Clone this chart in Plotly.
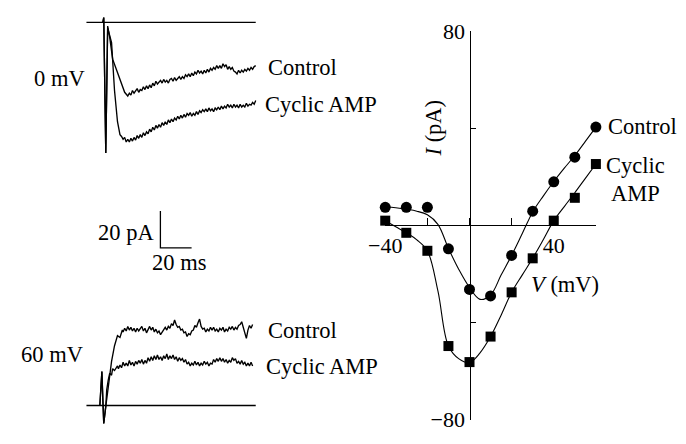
import plotly.graph_objects as go

W, H = 686, 444
FONT = "Liberation Serif"
FS = 22.5

# ---------------- current traces (time in ms, current in pA) ----------------
baseline_t = [-10.6, 98.0]
baseline_i = [0, 0]

# 0 mV, control
top_ctrl_t = [0, 0.6, 1.9, 3.1, 4.4, 6.3, 8, 10, 12, 14] + list(range(16, 99))
top_ctrl_i = [0, 2.6, -71, -2, -8, -20, -24, -29, -34, -38,
              -40, -38.5, -39.5, -37, -38.5, -37.5, -36, -38, -36.5, -37,
              -35, -36.5, -34.5, -36, -34, -35.5, -33, -34.5, -32, -33.5,
              -32.5, -31.5, -33, -31, -32.5, -31.5, -33, -31, -30.5, -32,
              -30, -31.5, -30.5, -29.5, -31, -29.5, -30.5, -28.5, -29.5, -28,
              -29.5, -27.5, -29, -27, -28, -26, -27.5, -26.5, -28, -26,
              -27.5, -25.5, -27, -25, -26, -24.5, -25.5, -23.5, -25, -23.5,
              -25, -22.5, -24, -23, -25.5, -24, -25.5, -24.5, -26.5, -27,
              -28, -26, -27.5, -26, -27, -25.5, -26.5, -25, -26, -24.5,
              -25.5, -24, -23.5]

# 0 mV, cyclic AMP
top_camp_t = [0, 0.6, 1.9, 3.1, 5.6, 7.5, 9.4, 11] + list(range(12, 99))
top_camp_i = [0, 2.6, -71, -3, -11, -37, -54, -61,
              -62, -63.5, -62.5, -65, -63.5, -65, -63, -64.5, -62.5, -64,
              -61.5, -63, -61, -62.5, -60, -61.5, -59.5, -60.5, -58, -59.5,
              -57, -58.5, -56, -57.5, -55.5, -57, -54.5, -56, -54, -55.5,
              -53, -54.5, -52.5, -54, -52, -53, -51, -52.5, -50.5, -52,
              -50, -51.5, -49.5, -50.5, -49, -51, -49.5, -50.5, -48.5, -50,
              -48, -49, -47.5, -48.5, -47, -48.5, -46.5, -48, -47, -48.5,
              -46.5, -47.5, -46, -47.5, -45.5, -47, -45.5, -46.5, -44.5, -46,
              -45, -46.5, -44.5, -46, -45, -46.5, -44.5, -46, -45, -46,
              -44, -45.5, -44.5, -45, -43.5, -44.5, -42.5]

# 60 mV, control
bot_ctrl_t = [-1.9, -0.6, 0, 0.6, 1.9, 3.1, 4.4, 5.6, 7.5, 9.4, 11, 12.5] + list(range(13, 97))
bot_ctrl_i = [0, 18.5, 3.6, -9.7, -0.5, 7, 16, 24, 32.5, 38, 37, 41,
              40, 42, 40.5, 43, 41, 42.5, 40.5, 42, 40, 42,
              40.5, 41.5, 43, 40.5, 42, 39.5, 41.5, 43, 41, 42.5,
              40, 41.5, 39.5, 40.5, 38.5, 40, 41.5, 42.5, 41, 43,
              42, 44.5, 43.5, 46.5, 44, 42.5, 43, 41, 41.5, 39.5,
              40, 37.5, 39, 38.5, 40.5, 41, 43.5, 42.5, 45, 47,
              43, 41.5, 42, 40, 41.5, 40.5, 42.5, 41, 42.5, 40.5,
              41.5, 40, 42, 41, 42.5, 40, 41.5, 40.5, 42.5, 41.5,
              43, 41, 42.5, 41.5, 43.5, 44, 45.5, 42, 39, 36.5,
              41, 43.5, 42, 44]

# 60 mV, cyclic AMP
bot_camp_t = [-1.9, -0.6, 0, 0.6, 1.9, 2.5, 3.5, 4.4, 5.6, 6.3, 7.5, 9.4] + list(range(10, 97))
bot_camp_i = [0, 18.5, 3.6, -9.7, -0.5, 8.5, 14, 17.5, 16.5, 20, 19, 21.5,
              20, 22, 20.5, 23.5, 21.5, 23, 21.5, 24.5, 22, 23.5,
              21.5, 24, 22.5, 24.5, 23, 25, 22.5, 24.5, 23, 26,
              24, 26.5, 24.5, 27, 25, 27.5, 25, 26.5, 24.5, 27,
              25.5, 28, 25, 27, 25.5, 27.5, 25, 26.5, 24, 26,
              24.5, 25.5, 23.5, 25, 22.5, 23.5, 21.5, 23, 22, 24,
              22, 23.5, 21.5, 23, 22, 24, 22.5, 23.5, 21.5, 23,
              22.5, 25, 23.5, 25.5, 24, 26, 24, 25.5, 23.5, 25,
              23, 24.5, 23.5, 26, 24.5, 25.5, 23, 24, 22.5, 24.5,
              22.5, 23.5, 21.5, 23, 21.5, 23.5, 21.5]

scale_t = [36.9, 36.9, 56.9]   # 20 ms bar
scale_i = [20, 0, 0]           # 20 pA bar

# ---------------- I-V relation ----------------
v_pts = [-40, -30, -20, -10, 0, 10, 20, 30, 40, 50, 60]
i_ctrl = [7.4, 7.4, 7.4, -9.7, -26.4, -29.1, -12.4, 5.8, 17.9, 28, 40.4]
i_camp = [1.9, -3.1, -10.5, -49.7, -56.3, -45.8, -27.6, -13.6, 1.9, 11.3, 25.2]

v_fit = [-40, -35, -30, -25, -20, -15, -10, -5, 0, 5, 10, 15, 20, 25, 30, 35, 40, 45, 50, 55, 60]
fit_ctrl = [7.6, 7.2, 6.6, 5.8, 4.3, 0.4, -9.5, -18.3, -25.6, -30.5, -28.7, -20.5, -12.4, -3.5, 5.5, 12, 18, 23.5,
            28.7, 34.5, 40.4]
fit_camp = [1.9, -0.6, -3.1, -6, -10.5, -27, -49.7, -55, -56.5, -52.5, -45.8, -37, -27.6, -20.5, -13.6, -6, 1.9, 7.7,
            13.4, 19.3, 25.2]

iv_xticks = [-40, -20, 0, 20, 40, 60]
iv_xticktext = ["\u221240", "", "", "", "40", ""]
iv_yticks = [-80, -40, 0, 40, 80]
iv_yticktext = ["\u221280", "", "", "", "80"]


def px(x):
    return x / W


def py(y):
    return 1 - y / H


fig = go.Figure()
line = dict(color="black", width=1.35)

for t, i in [(baseline_t, baseline_i), (top_ctrl_t, top_ctrl_i), (top_camp_t, top_camp_i)]:
    fig.add_trace(go.Scatter(x=t, y=i, mode="lines", line=line, xaxis="x", yaxis="y",
                             hoverinfo="skip", cliponaxis=False))
for t, i in [(baseline_t, baseline_i), (bot_ctrl_t, bot_ctrl_i), (bot_camp_t, bot_camp_i)]:
    fig.add_trace(go.Scatter(x=t, y=i, mode="lines", line=line, xaxis="x", yaxis="y2",
                             hoverinfo="skip", cliponaxis=False))
fig.add_trace(go.Scatter(x=scale_t, y=scale_i, mode="lines", line=dict(color="black", width=1.3),
                         xaxis="x", yaxis="y3", hoverinfo="skip", cliponaxis=False))

fig.add_trace(go.Scatter(x=v_fit, y=fit_ctrl, mode="lines", line=dict(color="black", width=1.1, shape="spline"),
                         xaxis="x2", yaxis="y4", cliponaxis=False))
fig.add_trace(go.Scatter(x=v_fit, y=fit_camp, mode="lines", line=dict(color="black", width=1.1, shape="spline"),
                         xaxis="x2", yaxis="y4", cliponaxis=False))
fig.add_trace(go.Scatter(x=v_pts, y=i_ctrl, mode="markers", marker=dict(symbol="circle", size=11, color="black"),
                         xaxis="x2", yaxis="y4", cliponaxis=False))
fig.add_trace(go.Scatter(x=v_pts, y=i_camp, mode="markers", marker=dict(symbol="square", size=10, color="black"),
                         xaxis="x2", yaxis="y4", cliponaxis=False))

hidden = dict(visible=False, showgrid=False, zeroline=False, fixedrange=True)

# left panel: 1.6 px per ms, 1.95 px per pA
fig.update_layout(
    xaxis=dict(domain=[px(71), px(246)], range=[(71 - 88) / 1.6, (246 - 88) / 1.6], anchor="y", **hidden),
    yaxis=dict(domain=[py(155), py(0)], range=[(11 - 155) / 1.95, 11 / 1.95], anchor="x", **hidden),
    yaxis2=dict(domain=[py(444), py(320)], range=[(417 - 444) / 1.95, (417 - 320) / 1.95], anchor="x", **hidden),
    yaxis3=dict(domain=[py(260), py(200)], range=[(250 - 260) / 1.95, (250 - 200) / 1.95], anchor="x", **hidden),
)

iv_x0, iv_x1 = 464 - 40 * 2.16, 464 + 60 * 2.16
axfont = dict(family=FONT, size=22, color="black")
fig.update_layout(
    xaxis2=dict(domain=[px(iv_x0), px(iv_x1)], range=[-40, 60], anchor="free", position=py(226),
                showline=True, linecolor="black", linewidth=1.2, ticks="inside", ticklen=7, tickwidth=1.1,
                tickcolor="black", tickvals=iv_xticks, ticktext=iv_xticktext, tickfont=axfont,
                ticklabeloverflow="allow", showgrid=False, zeroline=False, fixedrange=True),
    yaxis4=dict(domain=[py(432), py(20)], range=[-80, 80], anchor="free", position=px(464),
                showline=True, linecolor="black", linewidth=1.2, ticks="inside", ticklen=5, tickwidth=1.1,
                tickcolor="black", tickvals=iv_yticks, ticktext=iv_yticktext, tickfont=axfont,
                ticklabeloverflow="allow", showgrid=False, zeroline=False, fixedrange=True),
)


def label(text, x, y, xa="left", ya="middle", angle=0):
    fig.add_annotation(text=text, x=px(x), y=py(y), xref="paper", yref="paper", xanchor=xa, yanchor=ya,
                       showarrow=False, textangle=angle, font=dict(family=FONT, size=FS, color="black"))


label("0 mV", 72, 70, xa="right")
label("Control", 255, 59)
label("Cyclic AMP", 252, 98)
label("20 pA", 143, 234, xa="right")
label("20 ms", 166, 265, xa="center")
label("60 mV", 70, 363, xa="right")
label("Control", 255, 337)
label("Cyclic AMP", 253, 376)
label("Control", 604, 121)
label("Cyclic", 602, 163)
label("AMP", 607, 192)
label("<i>V</i> (mV)", 525, 289)
label("<i>I</i> (pA)", 427, 123, xa="center", angle=-90)

fig.update_layout(width=W, height=H, margin=dict(l=0, r=0, t=0, b=0), showlegend=False,
                  plot_bgcolor="white", paper_bgcolor="white")

fig.write_html("out.html")
